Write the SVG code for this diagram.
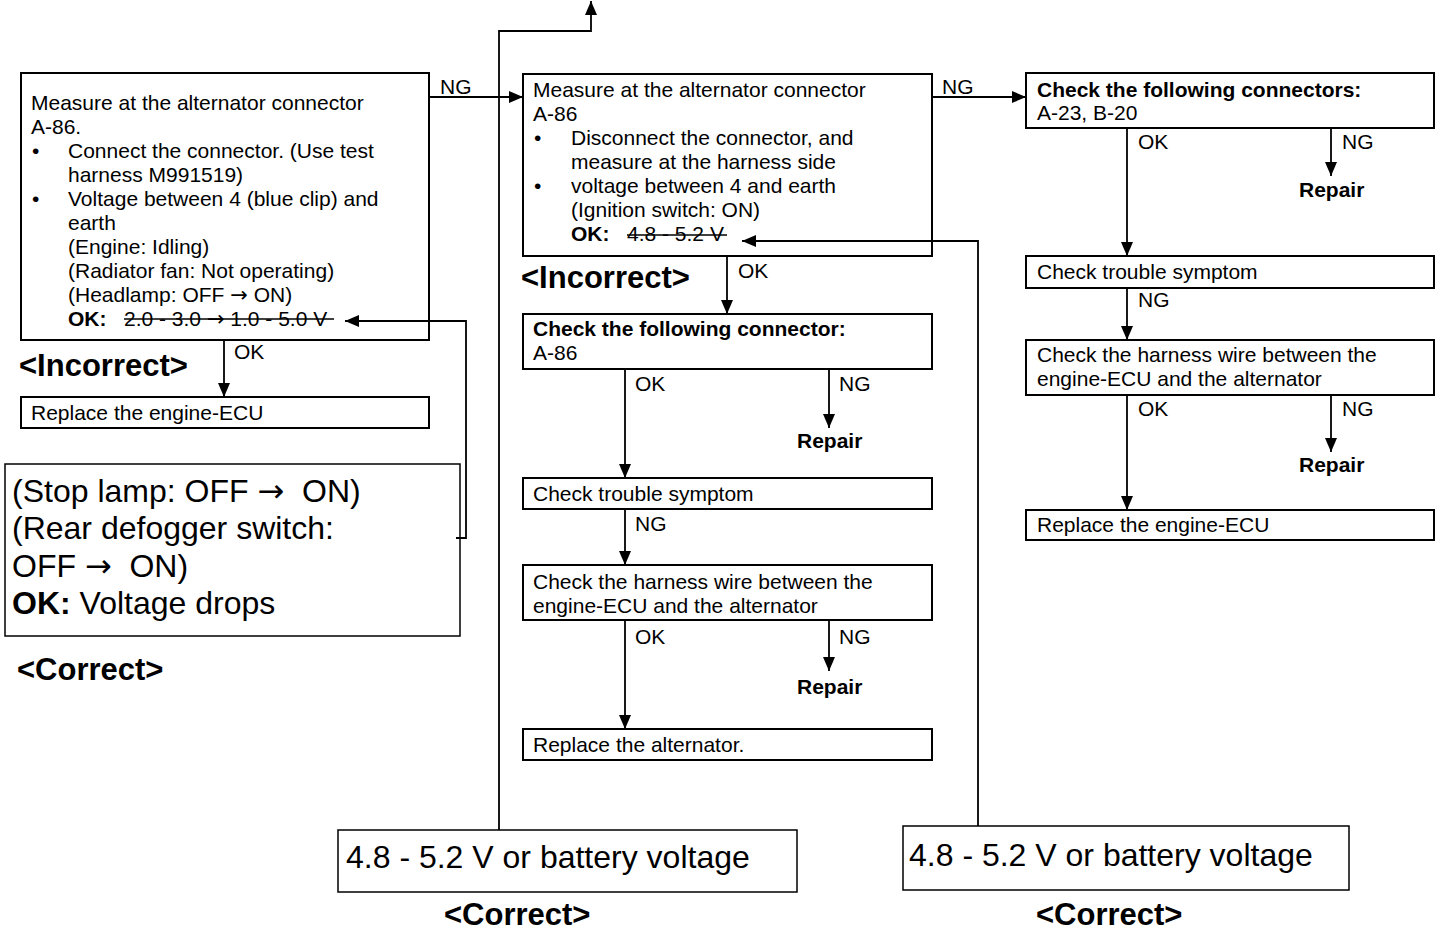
<svg xmlns="http://www.w3.org/2000/svg" width="1440" height="930" viewBox="0 0 1440 930">
<style>
.box{fill:#fff;stroke:#000;stroke-width:2}
.call{fill:#fff;stroke:#000;stroke-width:1.5}
.t{font-family:"Liberation Sans",Arial,sans-serif;font-size:21px;fill:#000}
.b{font-weight:bold}
.big{font-size:32px}
.ar{font-family:"DejaVu Sans",sans-serif}
.hdr{font-family:"Liberation Sans",Arial,sans-serif;font-size:31px;font-weight:bold;fill:#000}
.ln{stroke:#000;stroke-width:1.8;fill:none}
.st{stroke:#000;stroke-width:1.3}
</style>
<defs>
<marker id="ah" markerUnits="userSpaceOnUse" markerWidth="14" markerHeight="12" refX="14" refY="6" orient="auto">
<path d="M0,0 L14,6 L0,12 z" fill="#000"/>
</marker>
</defs>
<rect width="1440" height="930" fill="#fff"/>

<g id="measure1">
<rect class="box" x="21" y="73" width="408" height="267"/>
<text class="t" x="31" y="110">Measure at the alternator connector</text>
<text class="t" x="31" y="134">A-86.</text>
<text class="t" x="32" y="158">•</text>
<text class="t" x="68" y="158">Connect the connector. (Use test</text>
<text class="t" x="68" y="182">harness M991519)</text>
<text class="t" x="32" y="206">•</text>
<text class="t" x="68" y="206">Voltage between 4 (blue clip) and</text>
<text class="t" x="68" y="230">earth</text>
<text class="t" x="68" y="254">(Engine: Idling)</text>
<text class="t" x="68" y="278">(Radiator fan: Not operating)</text>
<text class="t" x="68" y="302">(Headlamp: OFF <tspan class="ar">→</tspan> ON)</text>
<text class="t b" x="68" y="326">OK:</text>
<text class="t" x="124" y="326">2.0 - 3.0 <tspan class="ar">→</tspan> 1.0 - 5.0 V</text>
<line class="st" x1="124" y1="319" x2="334" y2="319"/>
</g>
<text class="hdr" id="incorrect1" x="19" y="376">&lt;Incorrect&gt;</text>

<g id="replace-ecu1">
<rect class="box" x="21" y="397" width="408" height="31"/>
<text class="t" x="31" y="420">Replace the engine-ECU</text>
</g>

<g id="stoplamp">
<rect class="call" x="5" y="464" width="455" height="172"/>
<text class="t big" x="12" y="502">(Stop lamp: OFF <tspan class="ar">→</tspan>&#160; ON)</text>
<text class="t big" x="12" y="539">(Rear defogger switch:</text>
<text class="t big" x="12" y="577">OFF <tspan class="ar">→</tspan>&#160; ON)</text>
<text class="t big" x="12" y="614"><tspan class="b">OK:</tspan> Voltage drops</text>
</g>
<text class="hdr" id="correct1" x="17" y="680">&lt;Correct&gt;</text>

<g id="measure2">
<rect class="box" x="523" y="74" width="409" height="182"/>
<text class="t" x="533" y="97">Measure at the alternator connector</text>
<text class="t" x="533" y="121">A-86</text>
<text class="t" x="534" y="145">•</text>
<text class="t" x="571" y="145">Disconnect the connector, and</text>
<text class="t" x="571" y="169">measure at the harness side</text>
<text class="t" x="534" y="193">•</text>
<text class="t" x="571" y="193">voltage between 4 and earth</text>
<text class="t" x="571" y="217">(Ignition switch: ON)</text>
<text class="t b" x="571" y="241">OK:</text>
<text class="t" x="627" y="241">4.8 - 5.2 V</text>
<line class="st" x1="627" y1="235" x2="727" y2="235"/>
</g>
<text class="hdr" id="incorrect2" x="521" y="288">&lt;Incorrect&gt;</text>

<g id="check-conn-mid">
<rect class="box" x="523" y="314" width="409" height="55"/>
<text class="t b" x="533" y="336">Check the following connector:</text>
<text class="t" x="533" y="360">A-86</text>
</g>
<text class="t b" id="repair-mid1" x="797" y="448">Repair</text>

<g id="trouble-mid">
<rect class="box" x="523" y="478" width="409" height="31"/>
<text class="t" x="533" y="501">Check trouble symptom</text>
</g>

<g id="harness-mid">
<rect class="box" x="523" y="565" width="409" height="55"/>
<text class="t" x="533" y="589">Check the harness wire between the</text>
<text class="t" x="533" y="613">engine-ECU and the alternator</text>
</g>
<text class="t b" id="repair-mid2" x="797" y="694">Repair</text>

<g id="replace-alt">
<rect class="box" x="523" y="729" width="409" height="31"/>
<text class="t" x="533" y="752">Replace the alternator.</text>
</g>

<g id="check-conns-right">
<rect class="box" x="1026" y="73" width="408" height="55"/>
<text class="t b" x="1037" y="97">Check the following connectors:</text>
<text class="t" x="1037" y="120">A-23, B-20</text>
</g>
<text class="t b" id="repair-r1" x="1299" y="197">Repair</text>

<g id="trouble-right">
<rect class="box" x="1026" y="256" width="408" height="32"/>
<text class="t" x="1037" y="279">Check trouble symptom</text>
</g>

<g id="harness-right">
<rect class="box" x="1026" y="340" width="408" height="55"/>
<text class="t" x="1037" y="362">Check the harness wire between the</text>
<text class="t" x="1037" y="386">engine-ECU and the alternator</text>
</g>
<text class="t b" id="repair-r2" x="1299" y="472">Repair</text>

<g id="replace-ecu-right">
<rect class="box" x="1026" y="510" width="408" height="30"/>
<text class="t" x="1037" y="532">Replace the engine-ECU</text>
</g>

<g id="volt-left">
<rect class="call" x="338" y="830" width="459" height="62"/>
<text class="t big" x="346" y="868">4.8 - 5.2 V or battery voltage</text>
</g>
<text class="hdr" id="correct2" x="444" y="925">&lt;Correct&gt;</text>

<g id="volt-right">
<rect class="call" x="903" y="826" width="446" height="64"/>
<text class="t big" x="909" y="866">4.8 - 5.2 V or battery voltage</text>
</g>
<text class="hdr" id="correct3" x="1036" y="925">&lt;Correct&gt;</text>

<g id="connectors">
<line class="ln" x1="429" y1="97" x2="523" y2="97" marker-end="url(#ah)"/>
<line class="ln" x1="932" y1="97" x2="1026" y2="97" marker-end="url(#ah)"/>
<line class="ln" x1="224" y1="340" x2="224" y2="397" marker-end="url(#ah)"/>
<line class="ln" x1="727" y1="256" x2="727" y2="314" marker-end="url(#ah)"/>
<line class="ln" x1="625" y1="369" x2="625" y2="478" marker-end="url(#ah)"/>
<line class="ln" x1="829" y1="369" x2="829" y2="428" marker-end="url(#ah)"/>
<line class="ln" x1="625" y1="509" x2="625" y2="565" marker-end="url(#ah)"/>
<line class="ln" x1="625" y1="620" x2="625" y2="729" marker-end="url(#ah)"/>
<line class="ln" x1="829" y1="620" x2="829" y2="671" marker-end="url(#ah)"/>
<line class="ln" x1="1127" y1="128" x2="1127" y2="256" marker-end="url(#ah)"/>
<line class="ln" x1="1331" y1="128" x2="1331" y2="176" marker-end="url(#ah)"/>
<line class="ln" x1="1127" y1="288" x2="1127" y2="340" marker-end="url(#ah)"/>
<line class="ln" x1="1127" y1="395" x2="1127" y2="510" marker-end="url(#ah)"/>
<line class="ln" x1="1331" y1="395" x2="1331" y2="452" marker-end="url(#ah)"/>
<polyline class="ln" points="456,538 466,538 466,321 345,321" marker-end="url(#ah)"/>
<polyline class="ln" points="499,830 499,31 591,31 591,1" marker-end="url(#ah)"/>
<polyline class="ln" points="978,826 978,241 742,241" marker-end="url(#ah)"/>
<text class="t" x="440" y="94">NG</text>
<text class="t" x="942" y="94">NG</text>
<text class="t" x="234" y="359">OK</text>
<text class="t" x="738" y="278">OK</text>
<text class="t" x="635" y="391">OK</text>
<text class="t" x="839" y="391">NG</text>
<text class="t" x="635" y="531">NG</text>
<text class="t" x="635" y="644">OK</text>
<text class="t" x="839" y="644">NG</text>
<text class="t" x="1138" y="149">OK</text>
<text class="t" x="1342" y="149">NG</text>
<text class="t" x="1138" y="307">NG</text>
<text class="t" x="1138" y="416">OK</text>
<text class="t" x="1342" y="416">NG</text>
</g>
</svg>
